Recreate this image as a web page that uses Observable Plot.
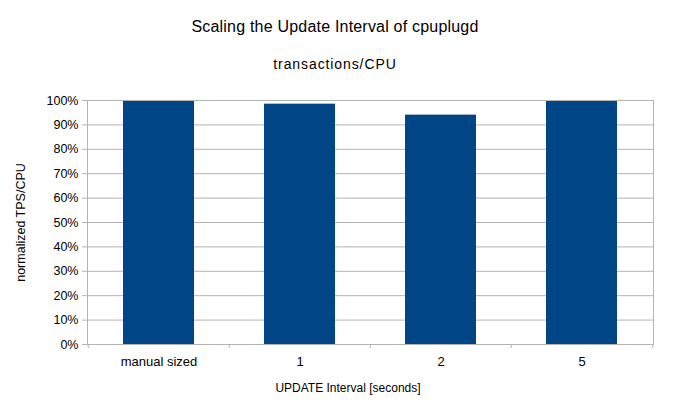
<!DOCTYPE html>
<html>
<head>
<meta charset="utf-8">
<script src="https://cdn.jsdelivr.net/npm/d3@7"></script>
<script src="https://cdn.jsdelivr.net/npm/@observablehq/plot@0.6"></script>
<style>
  body { margin: 0; background: #fff; font-family: "Liberation Sans", Arial, sans-serif; }
  #wrap { width: 690px; height: 410px; position: relative; overflow: hidden; }
  .title { position: absolute; text-align: center; color: #000; white-space: nowrap; }
  #t1 { top: 18px; left: 0; width: 670px; font-size: 16px; letter-spacing: 0.2px; }
  #t2 { top: 56px; left: 0; width: 670px; font-size: 14px; letter-spacing: 0.9px; }
  #xl { top: 381px; left: 0; width: 696px; font-size: 12px; }
  #chart { position: absolute; left: 0; top: 80px; }
</style>
</head>
<body>
<div id="wrap">
  <div id="chart"></div>
  <div class="title" id="t1">Scaling the Update Interval of cpuplugd</div>
  <div class="title" id="t2">transactions/CPU</div>
  <div class="title" id="xl">UPDATE Interval [seconds]</div>
</div>
<script>
const categories = ["manual sized", "1", "2", "5"];
const values = [1.0, 0.985, 0.94, 0.997];
const yTicks = [0, 0.1, 0.2, 0.3, 0.4, 0.5, 0.6, 0.7, 0.8, 0.9, 1.0];

const data = categories.map((c, i) => ({ cat: c, v: values[i] }));
const W = 690, H = 330, mL = 87, mR = 37;
const half = (W - mL - mR) / categories.length / 2;

const chart = Plot.plot({
  width: W,
  height: H,
  marginLeft: mL,
  marginRight: mR,
  marginTop: 20,
  marginBottom: 66,
  style: { fontFamily: "Liberation Sans, Arial, sans-serif", fontSize: "12px", color: "#000", background: "#fff" },
  x: { domain: categories, paddingInner: 0.5, paddingOuter: 0.25, label: null },
  y: { domain: [0, 1], label: null },
  marks: [
    Plot.gridY(yTicks, { stroke: "#b3b3b3", strokeOpacity: 1 }),
    Plot.barY(data, { x: "cat", y: "v", fill: "#004586" }),
    Plot.frame({ stroke: "#b3b3b3" }),
    Plot.axisY(yTicks, { tickFormat: d3.format(".0%"), tickSize: 5, tickPadding: 4, stroke: "#b3b3b3", fill: "#000",
      label: "normalized TPS/CPU", labelAnchor: "center", labelArrow: "none", labelOffset: 71, fontSize: 12.5 }),
    Plot.axisX({ tickSize: 0, tickPadding: 12, fill: "#000", fontSize: 13, label: null }),
    Plot.axisX({ tickSize: 4, tickFormat: () => "", stroke: "#b3b3b3", dx: -half, label: null }),
    Plot.axisX(categories.slice(-1), { tickSize: 4, tickFormat: () => "", stroke: "#b3b3b3", dx: half, label: null })
  ]
});
document.getElementById("chart").appendChild(chart);
</script>
</body>
</html>
